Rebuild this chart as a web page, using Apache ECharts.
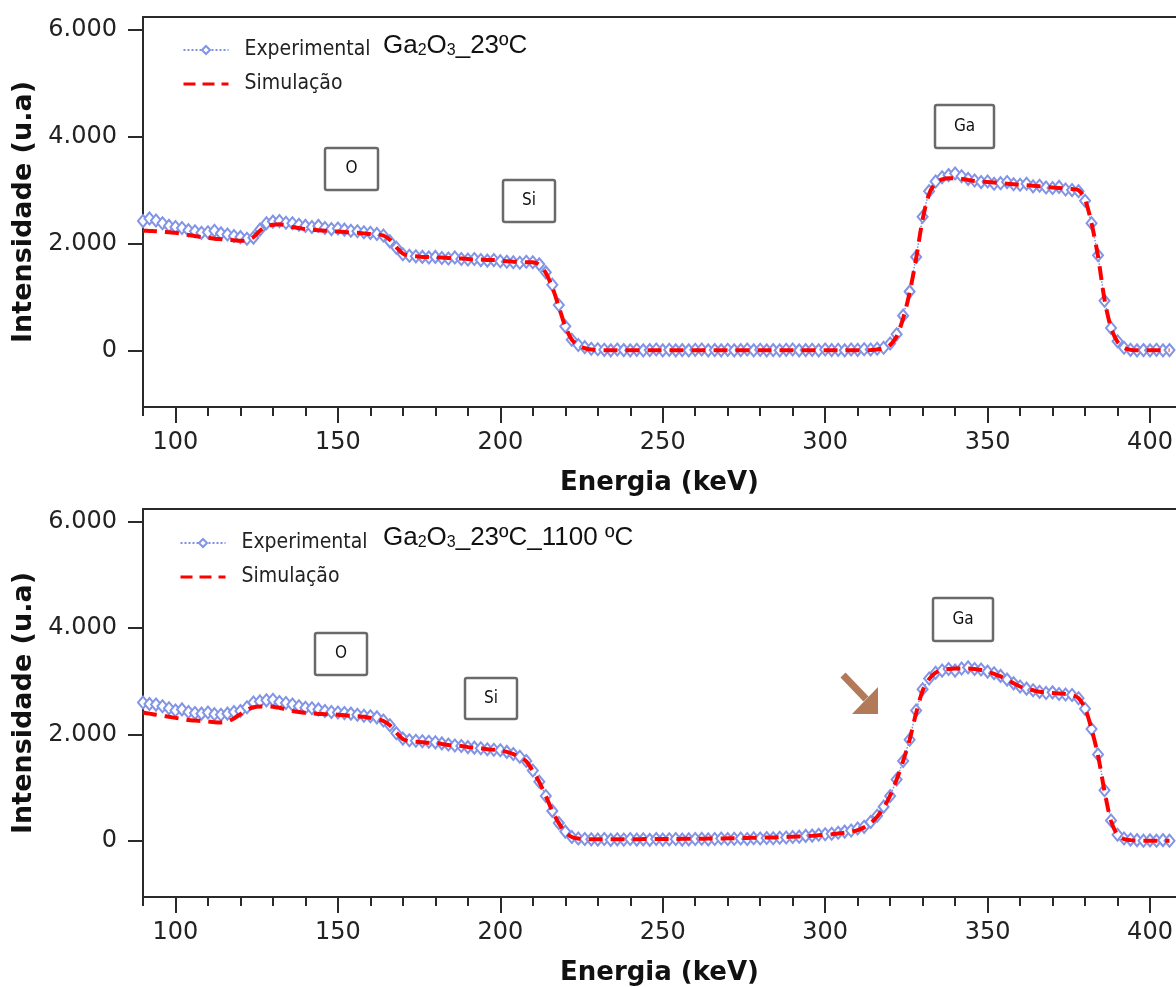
<!DOCTYPE html>
<html><head><meta charset="utf-8">
<script src="https://cdn.jsdelivr.net/npm/echarts@6/dist/echarts.min.js"></script>
<style>html,body{margin:0;padding:0;background:#fff}#c{width:1176px;height:987px}</style>
</head><body><div id="c"></div>
<script>
// Energy channels (keV)
const energy = [
  90,92,94,96,98,100,102,104,106,108,
  110,112,114,116,118,120,122,124,126,128,
  130,132,134,136,138,140,142,144,146,148,
  150,152,154,156,158,160,162,164,166,168,
  170,172,174,176,178,180,182,184,186,188,
  190,192,194,196,198,200,202,204,206,208,
  210,212,214,216,218,220,222,224,226,228,
  230,232,234,236,238,240,242,244,246,248,
  250,252,254,256,258,260,262,264,266,268,
  270,272,274,276,278,280,282,284,286,288,
  290,292,294,296,298,300,302,304,306,308,
  310,312,314,316,318,320,322,324,326,328,
  330,332,334,336,338,340,342,344,346,348,
  350,352,354,356,358,360,362,364,366,368,
  370,372,374,376,378,380,382,384,386,388,
  390,392,394,396,398,400,402,404,406
];
// Top panel: Ga2O3_23ºC
const expTop = [
  2420,2470,2430,2380,2330,2310,2290,2250,2230,2200,
  2210,2240,2190,2170,2140,2120,2090,2110,2260,2380,
  2410,2420,2390,2380,2350,2330,2310,2330,2290,2270,
  2280,2260,2240,2230,2210,2200,2180,2150,2040,1920,
  1800,1770,1760,1750,1740,1750,1730,1720,1740,1710,
  1700,1710,1690,1680,1690,1670,1660,1650,1640,1660,
  1650,1610,1460,1230,850,450,200,100,60,30,
  20,10,0,15,5,0,10,0,5,15,
  0,10,0,5,0,10,15,0,5,0,
  10,0,5,15,0,10,0,5,0,10,
  15,0,5,10,0,15,5,10,0,15,
  10,20,15,30,50,130,300,650,1100,1750,
  2500,2980,3160,3240,3280,3310,3260,3210,3180,3150,
  3160,3120,3130,3150,3110,3100,3120,3070,3080,3050,
  3040,3060,3010,3000,2980,2800,2380,1780,930,420,
  170,50,10,0,5,0,10,0,5
];
const simTop = [
  2240,2235,2230,2220,2210,2200,2180,2160,2140,2120,
  2110,2090,2080,2070,2060,2050,2060,2120,2240,2320,
  2350,2360,2340,2310,2290,2270,2260,2250,2240,2230,
  2225,2215,2205,2200,2190,2180,2170,2150,2070,1930,
  1810,1770,1760,1750,1750,1740,1740,1730,1720,1720,
  1710,1700,1700,1690,1690,1680,1670,1660,1660,1650,
  1650,1600,1450,1180,820,450,200,90,40,15,
  5,0,0,0,0,0,0,0,0,0,
  0,0,0,0,0,0,0,0,0,0,
  0,0,0,0,0,0,0,0,0,0,
  0,0,0,0,0,0,0,0,0,0,
  0,0,5,15,40,100,260,600,1080,1720,
  2450,2930,3130,3200,3220,3220,3210,3190,3170,3160,
  3150,3140,3130,3120,3110,3100,3090,3080,3070,3060,
  3050,3040,3030,3020,3000,2820,2380,1760,950,420,
  160,50,10,0,0,0,0,0,0
];
// Bottom panel: Ga2O3_23ºC_1100 ºC
const expBot = [
  2600,2570,2560,2530,2490,2450,2470,2420,2400,2390,
  2410,2380,2370,2390,2420,2440,2510,2600,2620,2640,
  2650,2610,2590,2560,2530,2500,2490,2470,2440,2420,
  2410,2400,2390,2370,2350,2340,2320,2260,2170,2020,
  1920,1890,1880,1870,1860,1850,1830,1810,1790,1780,
  1760,1750,1740,1720,1710,1700,1670,1630,1580,1500,
  1320,1110,840,560,330,170,70,40,30,25,
  20,30,15,25,20,30,20,25,15,30,
  20,25,30,20,25,30,35,25,30,40,
  30,35,40,30,45,40,50,45,55,60,
  70,75,90,95,110,120,130,150,170,190,
  230,260,350,470,640,840,1150,1500,1900,2450,
  2850,3050,3160,3200,3230,3200,3240,3260,3230,3220,
  3180,3150,3100,3030,2960,2900,2860,2830,2800,2780,
  2790,2760,2750,2740,2680,2480,2100,1620,950,380,
  110,40,20,10,0,5,0,10,0
];
const simBot = [
  2410,2390,2370,2350,2330,2310,2290,2270,2260,2250,
  2240,2230,2225,2240,2300,2380,2460,2510,2525,2525,
  2520,2500,2470,2440,2420,2405,2395,2385,2380,2375,
  2370,2360,2350,2340,2330,2310,2290,2250,2170,2030,
  1910,1870,1860,1850,1840,1840,1820,1800,1790,1780,
  1760,1750,1740,1720,1710,1700,1670,1630,1570,1490,
  1310,1100,840,560,330,160,70,40,30,25,
  25,25,25,25,25,25,25,30,30,30,
  30,30,30,35,35,35,35,40,40,40,
  45,45,50,50,55,55,60,60,65,70,
  75,80,85,90,100,110,120,135,150,170,
  200,250,330,450,620,850,1150,1500,1900,2400,
  2820,3040,3160,3210,3230,3240,3240,3240,3230,3210,
  3180,3140,3090,3030,2960,2900,2860,2830,2800,2790,
  2780,2770,2760,2740,2680,2490,2100,1600,930,370,
  110,30,10,0,0,0,0,0,0
];
const xMajorTicks = [100,150,200,250,300,350,400];
const xMinorTicks = [90,110,120,130,140,160,170,180,190,210,220,230,240,260,270,280,290,310,320,330,340,360,370,380,390];
const yTicks = [0,2000,4000,6000];
const seriesNames = ['Experimental','Simulação'];
const sampleTitles = [['Ga','2','O','3','_23ºC'],['Ga','2','O','3','_23ºC_1100 ºC']];
const xTitle = 'Energia (keV)';
const yTitle = 'Intensidade (u.a)';

const chart = echarts.init(document.getElementById('c'), null, {renderer:'canvas'});
const gridTops = [17, 509];
const GH = 390;
const AX = '#2a2a2a';
const FONT = 'DejaVu Sans';

const grids = gridTops.map(t => ({left:143, right:0, top:t, height:GH, show:false}));
const xAxes = [], yAxes = [], series = [];
const panels = [[expTop, simTop],[expBot, simBot]];
panels.forEach((p, g) => {
  const base = xAxes.length;
  xAxes.push({
    type:'value', gridIndex:g, min:90, max:408, position:'bottom',
    axisLine:{show:true, onZero:false, lineStyle:{color:AX, width:2}},
    axisTick:{show:true, customValues:xMajorTicks, length:16, lineStyle:{color:AX, width:2}},
    axisLabel:{customValues:xMajorTicks, fontSize:24, fontFamily:FONT, color:'#222', margin:24},
    splitLine:{show:false},
    name:xTitle, nameLocation:'middle', nameGap:63,
    nameTextStyle:{fontFamily:FONT, fontWeight:'bold', fontSize:26, color:'#111'}
  });
  xAxes.push({
    type:'value', gridIndex:g, min:90, max:408, position:'bottom',
    axisLine:{show:false, onZero:false},
    axisTick:{show:true, customValues:xMinorTicks, length:9, lineStyle:{color:AX, width:2}},
    axisLabel:{show:false}, splitLine:{show:false}
  });
  xAxes.push({
    type:'value', gridIndex:g, min:90, max:408, position:'top',
    axisLine:{show:true, onZero:false, lineStyle:{color:AX, width:2}},
    axisTick:{show:false}, axisLabel:{show:false}, splitLine:{show:false}
  });
  yAxes.push({
    type:'value', gridIndex:g, min:-1060, max:6240,
    axisLine:{show:true, onZero:false, lineStyle:{color:AX, width:2}},
    axisTick:{show:true, customValues:yTicks, length:15, lineStyle:{color:AX, width:2}},
    axisLabel:{customValues:yTicks, fontSize:24, fontFamily:FONT, color:'#222', margin:26,
      formatter: v => v === 0 ? '0' : (v/1000).toFixed(3)},
    splitLine:{show:false},
    name:yTitle, nameLocation:'middle', nameGap:92, nameRotate:90,
    nameTextStyle:{fontFamily:FONT, fontWeight:'bold', fontSize:27, color:'#111'}
  });
  series.push({
    name:seriesNames[0], type:'line', xAxisIndex:base, yAxisIndex:g,
    data: energy.map((e,i)=>[e, p[0][i]]),
    symbol:'emptyDiamond', symbolSize:[10,12], showAllSymbol:true,
    lineStyle:{type:'dotted', width:1.5, color:'#7d8fe0'},
    itemStyle:{color:'#8194e6', borderWidth:1.6},
    z:2, animation:false
  });
  series.push({
    name:seriesNames[1], type:'line', xAxisIndex:base, yAxisIndex:g,
    data: energy.map((e,i)=>[e, p[1][i]]),
    symbol:'none', smooth:0.3,
    lineStyle:{type:[14,8], width:4, color:'#ff0000'},
    itemStyle:{color:'#ff0000'},
    z:3, animation:false
  });
});

const legendTops = [33, 526];
const legendLefts = [177, 174];
const legends = legendTops.map((t,i) => ({
  orient:'vertical', left:legendLefts[i], top:t,
  data:[
    {name:seriesNames[0]},
    {name:seriesNames[1], itemStyle:{color:'rgba(0,0,0,0)', borderColor:'rgba(0,0,0,0)', borderWidth:0, opacity:0},
     lineStyle:{color:'#ff0000', width:3, type:[12,7]}}
  ],
  itemWidth:45, itemHeight:10, itemGap:10,
  textStyle:{fontFamily:'DejaVu Sans Condensed', fontSize:21, color:'#222', lineHeight:24, padding:[0,0,0,11]}
}));

function richTitle(parts){
  return '{a|'+parts[0]+'}{s|'+parts[1]+'}{a|'+parts[2]+'}{s|'+parts[3]+'}{a|'+parts[4]+'}';
}
const titleTops = [33, 525];
const graphic = [];
sampleTitles.forEach((parts,i) => {
  graphic.push({type:'text', left:383, top:titleTops[i], z:10, style:{
    text: richTitle(parts),
    rich:{
      a:{fontSize:26, fontFamily:'Liberation Sans', fill:'#111', lineHeight:30, verticalAlign:'bottom'},
      s:{fontSize:16, fontFamily:'Liberation Sans', fill:'#111', lineHeight:16, verticalAlign:'bottom'}
    }
  }});
});
// element label boxes [text, x, y, w, h]
const boxes = [
  ['O',325,148,53,42],['Si',503,180,52,42],['Ga',935,105,59,43],
  ['O',315,633,52,42],['Si',465,678,52,41],['Ga',933,598,60,43]
];
boxes.forEach(b => {
  graphic.push({type:'group', z:10, children:[
    {type:'rect', shape:{x:b[1], y:b[2], width:b[3], height:b[4], r:2},
     style:{fill:'#fff', stroke:'#6a6a6a', lineWidth:2.5}},
    {type:'text', x:b[1]+b[3]/2, y:b[2]+b[4]/2,
     style:{text:b[0], fontSize:17, fontFamily:'DejaVu Sans Condensed', fill:'#111', align:'center', verticalAlign:'middle'}}
  ]});
});
// arrow annotation
graphic.push({type:'line', z:10, shape:{x1:843, y1:675, x2:866, y2:699},
  style:{stroke:'#b27a58', lineWidth:7, lineCap:'butt'}});
graphic.push({type:'polygon', z:10, shape:{points:[[852,714],[878,687],[878,714]]},
  style:{fill:'#b27a58'}});

chart.setOption({
  animation:false,
  backgroundColor:'#fff',
  grid:grids, xAxis:xAxes, yAxis:yAxes, series:series,
  legend:legends, graphic:graphic
});
</script></body></html>
